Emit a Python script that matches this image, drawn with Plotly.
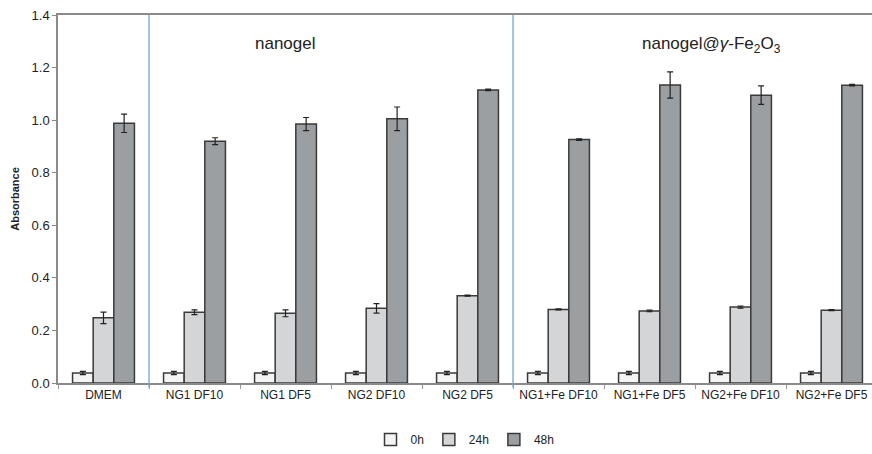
import plotly.graph_objects as go

categories = ["DMEM", "NG1 DF10", "NG1 DF5", "NG2 DF10", "NG2 DF5",
              "NG1+Fe DF10", "NG1+Fe DF5", "NG2+Fe DF10", "NG2+Fe DF5"]
series_names = ["0h", "24h", "48h"]
vals_0h = [0.038, 0.038, 0.038, 0.038, 0.038, 0.038, 0.038, 0.038, 0.038]
err_0h = [0.006, 0.006, 0.006, 0.006, 0.006, 0.006, 0.006, 0.006, 0.006]
vals_24h = [0.248, 0.269, 0.265, 0.284, 0.332, 0.280, 0.274, 0.289, 0.277]
err_24h = [0.022, 0.009, 0.013, 0.018, 0.002, 0.002, 0.003, 0.004, 0.002]
vals_48h = [0.988, 0.920, 0.985, 1.005, 1.115, 0.926, 1.134, 1.095, 1.133]
err_48h = [0.035, 0.013, 0.025, 0.045, 0.003, 0.003, 0.050, 0.035, 0.003]
y_ticks = [0.0, 0.2, 0.4, 0.6, 0.8, 1.0, 1.2, 1.4]
group_labels = ["nanogel", "nanogel@<i>γ</i>-Fe<sub>2</sub>O<sub>3</sub>"]

fills = ["#f4f4f4", "#d3d5d7", "#9c9fa2"]
values = [vals_0h, vals_24h, vals_48h]
errors = [err_0h, err_24h, err_48h]

fig = go.Figure()
for name, v, e, c in zip(series_names, values, errors, fills):
    fig.add_trace(go.Bar(
        x=categories, y=v, name=name,
        marker=dict(color=c, line=dict(color="#3a3a3a", width=1.5)),
        error_y=dict(type="data", array=e, visible=True, color="#222222",
                     thickness=1.2, width=3),
    ))

# vertical separators
for xb in [0.5, 4.5]:
    fig.add_shape(type="line", xref="x", yref="paper", x0=xb, x1=xb, y0=-0.012, y1=1,
                  line=dict(color="#6fa3d6", width=1.3))

fig.add_annotation(x=2, y=1.29, xref="x", yref="y", text=group_labels[0],
                   showarrow=False, font=dict(size=17, color="#222222"))
fig.add_annotation(x=6.68, y=1.285, xref="x", yref="y", text=group_labels[1],
                   showarrow=False, font=dict(size=17, color="#222222"))

fig.update_layout(
    width=872, height=454,
    margin=dict(l=58, r=0, t=15, b=71),
    paper_bgcolor="white", plot_bgcolor="white",
    font=dict(family="Liberation Sans, Arial, sans-serif", color="#222222"),
    barmode="group", bargap=0.32, bargroupgap=0,
    showlegend=True,
    legend=dict(orientation="h", x=0.5, xanchor="center", y=-0.155, yanchor="middle",
                font=dict(size=12), itemwidth=30, traceorder="normal"),
    xaxis=dict(range=[-0.5, 8.445], showline=True, linecolor="#8a8a8a", linewidth=1.5,
               mirror=True, ticks="outside", tickson="boundaries", ticklen=4,
               tickcolor="#9a9a9a", tickfont=dict(size=12), showgrid=False),
    yaxis=dict(range=[0, 1.4], tickvals=y_ticks, ticktext=[f"{t:.1f}" for t in y_ticks],
               showline=True, linecolor="#8a8a8a", linewidth=1.5, ticks="outside",
               ticklen=4, tickcolor="#8a8a8a", tickfont=dict(size=13), showgrid=False,
               zeroline=False,
               title=dict(text="<b>Absorbance</b>", font=dict(size=11), standoff=10)),
)

fig.write_html("out.html")
